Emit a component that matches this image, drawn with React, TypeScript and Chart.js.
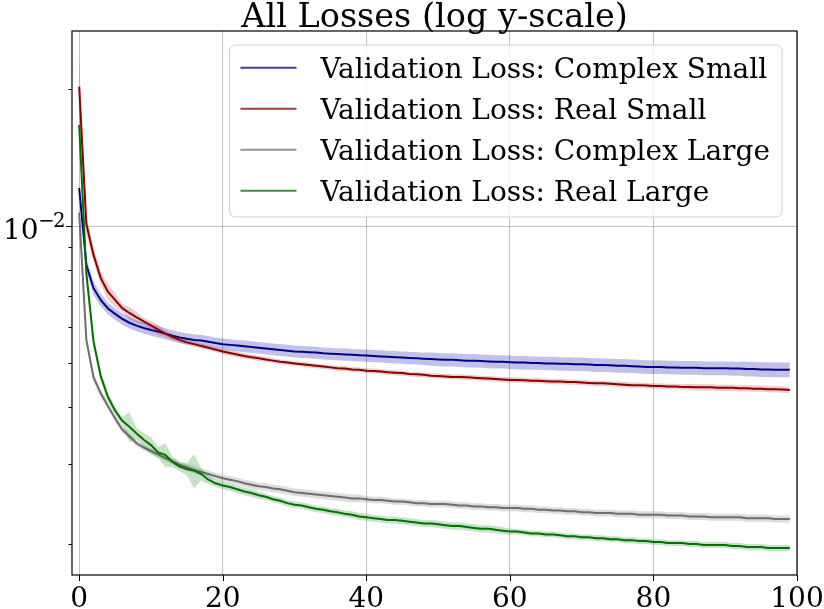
import { useEffect, useRef } from 'react';
import { Chart, registerables } from 'chart.js';

Chart.register(...registerables);

const epochs = Array.from({ length: 100 }, (_, i) => i);

const seriesNames = [
  'Validation Loss: Complex Small',
  'Validation Loss: Real Small',
  'Validation Loss: Complex Large',
  'Validation Loss: Real Large',
];
const lineColors = ['#00008b', '#8b0000', '#6e6e6e', '#007000'];
const legendColors = ['#3c3ca0', '#a03c3c', '#969696', '#3c8c3c'];
const bandColors = [
  'rgba(0, 0, 160, 0.24)',
  'rgba(160, 0, 0, 0.2)',
  'rgba(128, 128, 128, 0.27)',
  'rgba(0, 128, 0, 0.22)',
];

const xTickValues = [0, 20, 40, 60, 80, 100];
const yTickValues = [0.002, 0.003, 0.004, 0.005, 0.006, 0.007, 0.008, 0.009, 0.01, 0.02];

const complexSmallMean = [
  0.01212, 0.00821, 0.0073, 0.00688, 0.00659, 0.00641, 0.00625, 0.00613, 0.00604, 0.00597,
  0.00591, 0.00586, 0.0058, 0.00574, 0.00569, 0.00565, 0.00562, 0.0056, 0.00557, 0.00553,
  0.0055, 0.00548, 0.00546, 0.00544, 0.00542, 0.0054, 0.00538, 0.00536, 0.00534, 0.00532,
  0.0053, 0.00529, 0.00528, 0.00527, 0.00525, 0.00524, 0.00523, 0.00522, 0.00521, 0.0052,
  0.00519, 0.00518, 0.00517, 0.00516, 0.00515, 0.00514, 0.00513, 0.00512, 0.00511, 0.0051,
  0.00509, 0.00508, 0.00508, 0.00507, 0.00506, 0.00506, 0.00505, 0.00504, 0.00503, 0.00503,
  0.00502, 0.00501, 0.00501, 0.005, 0.005, 0.00499, 0.00499, 0.00498, 0.00498, 0.00497,
  0.00497, 0.00496, 0.00495, 0.00495, 0.00494, 0.00493, 0.00493, 0.00492, 0.00491, 0.0049,
  0.0049, 0.0049, 0.00489, 0.00489, 0.00488, 0.00488, 0.00488, 0.00487, 0.00487, 0.00487,
  0.00487, 0.00486, 0.00486, 0.00485, 0.00485, 0.00484, 0.00484, 0.00483, 0.00483, 0.00483,
];
const complexSmallStd = [
  0.00035, 0.00028, 0.00025, 0.00022, 0.0002, 0.00019, 0.00018, 0.00018, 0.00017, 0.00017,
  0.00017, 0.00017, 0.00016, 0.00016, 0.00016, 0.00016, 0.00016, 0.00016, 0.00016, 0.00016,
  0.00016, 0.00016, 0.00016, 0.00016, 0.00016, 0.00016, 0.00016, 0.00016, 0.00016, 0.00016,
  0.00016, 0.00016, 0.00016, 0.00016, 0.00016, 0.00016, 0.00016, 0.00016, 0.00016, 0.00016,
  0.00016, 0.00016, 0.00016, 0.00016, 0.00016, 0.00016, 0.00016, 0.00016, 0.00016, 0.00017,
  0.00017, 0.00017, 0.00017, 0.00017, 0.00017, 0.00017, 0.00017, 0.00017, 0.00017, 0.00017,
  0.00017, 0.00017, 0.00017, 0.00017, 0.00017, 0.00017, 0.00017, 0.00017, 0.00017, 0.00017,
  0.00017, 0.00017, 0.00017, 0.00017, 0.00017, 0.00017, 0.00017, 0.00017, 0.00017, 0.00017,
  0.00017, 0.00017, 0.00017, 0.00017, 0.00017, 0.00017, 0.00017, 0.00017, 0.00017, 0.00017,
  0.00017, 0.00017, 0.00017, 0.00018, 0.00018, 0.00018, 0.00018, 0.00018, 0.00018, 0.00018,
];

const realSmallMean = [
  0.02024, 0.0101, 0.00864, 0.00769, 0.00717, 0.00688, 0.0066, 0.00644, 0.0063, 0.00617,
  0.00605, 0.00592, 0.0058, 0.0057, 0.00562, 0.00555, 0.0055, 0.00545, 0.0054, 0.00535,
  0.0053, 0.00526, 0.00522, 0.00518, 0.00515, 0.00512, 0.00509, 0.00506, 0.00503, 0.00501,
  0.00499, 0.00497, 0.00495, 0.00493, 0.00491, 0.00489, 0.00487, 0.00486, 0.00484, 0.00483,
  0.00481, 0.0048, 0.00479, 0.00477, 0.00476, 0.00475, 0.00473, 0.00472, 0.00471, 0.00469,
  0.00468, 0.00467, 0.00466, 0.00466, 0.00465, 0.00464, 0.00463, 0.00462, 0.00461, 0.0046,
  0.00459, 0.00459, 0.00458, 0.00457, 0.00457, 0.00456, 0.00455, 0.00455, 0.00454, 0.00454,
  0.00453, 0.00452, 0.00451, 0.00451, 0.0045, 0.00449, 0.00448, 0.00447, 0.00447, 0.00446,
  0.00445, 0.00445, 0.00444, 0.00444, 0.00443, 0.00443, 0.00442, 0.00442, 0.00442, 0.00441,
  0.00441, 0.00441, 0.0044, 0.0044, 0.00439, 0.00439, 0.00438, 0.00438, 0.00437, 0.00436,
];
const realSmallStd = [
  0.003, 0.0005, 0.0003, 0.00025, 0.00028, 0.00024, 0.00014, 0.0002, 0.00017, 0.00011,
  0.00013, 0.00015, 0.00009, 0.00008, 0.00008, 0.00007, 0.00007, 0.00007, 0.00007, 0.00007,
  0.00007, 0.00007, 0.00007, 0.00007, 0.00007, 0.00007, 0.00007, 0.00006, 0.00006, 0.00006,
  0.00006, 0.00006, 0.00006, 0.00006, 0.00006, 0.00006, 0.00006, 0.00006, 0.00006, 0.00006,
  0.00006, 0.00006, 0.00006, 0.00006, 0.00006, 0.00006, 0.00006, 0.00006, 0.00006, 0.00006,
  0.00006, 0.00006, 0.00006, 0.00006, 0.00006, 0.00006, 0.00006, 0.00006, 0.00006, 0.00006,
  0.00006, 0.00006, 0.00006, 0.00006, 0.00006, 0.00006, 0.00006, 0.00006, 0.00006, 0.00006,
  0.00006, 0.00006, 0.00006, 0.00006, 0.00006, 0.00006, 0.00006, 0.00006, 0.00006, 0.00006,
  0.00006, 0.00006, 0.00006, 0.00006, 0.00006, 0.00007, 0.00007, 0.00007, 0.00007, 0.00007,
  0.00007, 0.00007, 0.00007, 0.00007, 0.00007, 0.00007, 0.00007, 0.00007, 0.00007, 0.00007,
];

const complexLargeMean = [
  0.0107, 0.00562, 0.00465, 0.00429, 0.00402, 0.00378, 0.00357, 0.00345, 0.00333, 0.00326,
  0.0032, 0.00315, 0.00309, 0.00304, 0.00299, 0.00295, 0.00291, 0.00288, 0.00285, 0.00282,
  0.00279, 0.00277, 0.00275, 0.00272, 0.0027, 0.00268, 0.00267, 0.00265, 0.00264, 0.00262,
  0.0026, 0.00259, 0.00258, 0.00257, 0.00256, 0.00255, 0.00254, 0.00253, 0.00252, 0.00252,
  0.00251, 0.0025, 0.0025, 0.00249, 0.00248, 0.00248, 0.00247, 0.00246, 0.00246, 0.00245,
  0.00245, 0.00245, 0.00244, 0.00243, 0.00243, 0.00242, 0.00242, 0.00241, 0.00241, 0.0024,
  0.0024, 0.0024, 0.00239, 0.00239, 0.00238, 0.00238, 0.00237, 0.00237, 0.00236, 0.00236,
  0.00235, 0.00235, 0.00234, 0.00234, 0.00234, 0.00233, 0.00233, 0.00233, 0.00232, 0.00232,
  0.00232, 0.00232, 0.00231, 0.00231, 0.00231, 0.0023, 0.0023, 0.0023, 0.00229, 0.00229,
  0.00229, 0.00229, 0.00229, 0.00228, 0.00228, 0.00228, 0.00228, 0.00227, 0.00227, 0.00227,
];
const complexLargeStd = [
  0.0004, 0.00015, 0.0001, 0.00008, 0.00007, 0.00006, 0.00006, 0.00005, 0.00005, 0.00005,
  0.00005, 0.00005, 0.00005, 0.00005, 0.00005, 0.00005, 0.00005, 0.00005, 0.00005, 0.00005,
  0.00005, 0.00005, 0.00005, 0.00005, 0.00005, 0.00005, 0.00005, 0.00005, 0.00005, 0.00005,
  0.00005, 0.00005, 0.00005, 0.00005, 0.00005, 0.00005, 0.00005, 0.00005, 0.00005, 0.00005,
  0.00004, 0.00004, 0.00004, 0.00004, 0.00004, 0.00004, 0.00004, 0.00004, 0.00004, 0.00004,
  0.00004, 0.00004, 0.00004, 0.00004, 0.00004, 0.00004, 0.00004, 0.00004, 0.00004, 0.00004,
  0.00004, 0.00004, 0.00004, 0.00004, 0.00004, 0.00004, 0.00004, 0.00004, 0.00004, 0.00004,
  0.00004, 0.00004, 0.00004, 0.00004, 0.00004, 0.00004, 0.00004, 0.00004, 0.00004, 0.00004,
  0.00004, 0.00004, 0.00004, 0.00004, 0.00004, 0.00004, 0.00004, 0.00004, 0.00004, 0.00004,
  0.00004, 0.00004, 0.00004, 0.00004, 0.00004, 0.00004, 0.00004, 0.00004, 0.00004, 0.00004,
];

const realLargeMean = [
  0.01667, 0.00787, 0.00557, 0.00468, 0.00421, 0.00393, 0.00373, 0.00362, 0.0035, 0.00339,
  0.0033, 0.00318, 0.00314, 0.00303, 0.00296, 0.00292, 0.0029, 0.00285, 0.00277, 0.00272,
  0.00269, 0.00267, 0.00264, 0.00261, 0.00259, 0.00256, 0.00254, 0.00251, 0.00249, 0.00246,
  0.00244, 0.00243, 0.00241, 0.00239, 0.00238, 0.00236, 0.00235, 0.00233, 0.00232, 0.0023,
  0.00229, 0.00228, 0.00227, 0.00226, 0.00226, 0.00225, 0.00224, 0.00223, 0.00222, 0.00222,
  0.00221, 0.0022, 0.00219, 0.00219, 0.00218, 0.00217, 0.00216, 0.00216, 0.00215, 0.00214,
  0.00213, 0.00213, 0.00212, 0.00211, 0.00211, 0.0021, 0.0021, 0.00209, 0.00208, 0.00208,
  0.00207, 0.00207, 0.00206, 0.00206, 0.00205, 0.00205, 0.00204, 0.00204, 0.00203, 0.00203,
  0.00202, 0.00202, 0.00201, 0.00201, 0.00201, 0.002, 0.002, 0.00199, 0.00199, 0.00199,
  0.00199, 0.00198, 0.00198, 0.00197, 0.00197, 0.00197, 0.00196, 0.00196, 0.00196, 0.00196,
];
const realLargeStd = [
  0.0005, 0.00025, 0.00015, 0.00012, 0.0001, 0.00008, 0.00008, 0.00027, 0.0001, 0.00012,
  0.00014, 0.00009, 0.00019, 0.00008, 0.00007, 0.00009, 0.00025, 0.00009, 0.00006, 0.00005,
  0.00005, 0.00005, 0.00005, 0.00005, 0.00005, 0.00005, 0.00004, 0.00004, 0.00004, 0.00004,
  0.00004, 0.00004, 0.00004, 0.00004, 0.00004, 0.00004, 0.00004, 0.00004, 0.00004, 0.00004,
  0.00004, 0.00004, 0.00004, 0.00004, 0.00004, 0.00004, 0.00004, 0.00004, 0.00004, 0.00004,
  0.00004, 0.00004, 0.00004, 0.00004, 0.00004, 0.00004, 0.00004, 0.00004, 0.00004, 0.00004,
  0.00003, 0.00003, 0.00003, 0.00003, 0.00003, 0.00003, 0.00003, 0.00003, 0.00003, 0.00003,
  0.00003, 0.00003, 0.00003, 0.00003, 0.00003, 0.00003, 0.00003, 0.00003, 0.00003, 0.00003,
  0.00003, 0.00003, 0.00003, 0.00003, 0.00003, 0.00003, 0.00003, 0.00003, 0.00003, 0.00003,
  0.00003, 0.00003, 0.00003, 0.00003, 0.00003, 0.00003, 0.00003, 0.00003, 0.00003, 0.00003,
];

const seriesMeans = [complexSmallMean, realSmallMean, complexLargeMean, realLargeMean];
const seriesStds = [complexSmallStd, realSmallStd, complexLargeStd, realLargeStd];

const FONT = "'DejaVu Serif', serif";

// title, frame, tick marks, the 10^-2 label and the in-axes legend, drawn like matplotlib
const decorPlugin = {
  id: 'decor',
  afterDraw(chart: any) {
    const { ctx, chartArea, scales } = chart;
    const { left, right, top, bottom } = chartArea;
    ctx.save();

    ctx.strokeStyle = '#000';
    ctx.lineWidth = 1;
    ctx.beginPath();
    xTickValues.forEach((v) => {
      const px = Math.round(scales.x.getPixelForValue(v)) + 0.5;
      ctx.moveTo(px, bottom);
      ctx.lineTo(px, bottom + 6);
    });
    yTickValues.forEach((v) => {
      const py = Math.round(scales.y.getPixelForValue(v)) + 0.5;
      ctx.moveTo(left, py);
      ctx.lineTo(left - (v === 0.01 ? 6 : 3.5), py);
    });
    ctx.stroke();

    ctx.lineWidth = 1.2;
    ctx.strokeRect(left, top, right - left, bottom - top);

    // y major label: 10 with a raised -2
    const yMajor = scales.y.getPixelForValue(0.01);
    ctx.fillStyle = '#000';
    ctx.textBaseline = 'alphabetic';
    ctx.textAlign = 'left';
    ctx.font = `28px ${FONT}`;
    ctx.fillText('10', left - 69, yMajor + 12.5);
    ctx.font = `19.6px ${FONT}`;
    ctx.textAlign = 'center';
    ctx.fillText('\u2212', left - 25.5, yMajor + 1);
    ctx.textAlign = 'left';
    ctx.fillText('2', left - 19, yMajor + 1);

    ctx.font = `33.5px ${FONT}`;
    ctx.textAlign = 'center';
    ctx.fillText('All Losses (log y-scale)', (left + right) / 2, 27);

    ctx.font = `28px ${FONT}`;
    const textW = Math.max(...seriesNames.map((n) => ctx.measureText(n).width));
    const boxW = 91 + textW + 12;
    const boxH = 172;
    const boxX = right - 15 - boxW;
    const boxY = top + 14;
    ctx.beginPath();
    ctx.roundRect(boxX, boxY, boxW, boxH, 6);
    ctx.fillStyle = 'rgba(255,255,255,0.8)';
    ctx.fill();
    ctx.strokeStyle = '#d0d0d0';
    ctx.lineWidth = 1;
    ctx.stroke();

    ctx.textAlign = 'left';
    seriesNames.forEach((name, k) => {
      const cy = boxY + 22.7 + 41 * k;
      ctx.strokeStyle = legendColors[k];
      ctx.lineWidth = 2;
      ctx.beginPath();
      ctx.moveTo(boxX + 11, cy);
      ctx.lineTo(boxX + 67, cy);
      ctx.stroke();
      ctx.fillStyle = '#000';
      ctx.fillText(name, boxX + 91, cy + 10);
    });

    ctx.restore();
  },
};

function LossChart() {
  const canvasRef = useRef<HTMLCanvasElement | null>(null);

  useEffect(() => {
    if (!canvasRef.current) return;

    const datasets: any[] = [];
    const total = seriesNames.length * 3;
    seriesNames.forEach((name, k) => {
      const mean = seriesMeans[k];
      const std = seriesStds[k];
      const base = total - k * 3;
      datasets.push({
        label: name,
        data: epochs.map((e, i) => ({ x: e, y: mean[i] })),
        borderColor: lineColors[k],
        borderWidth: 2,
        pointRadius: 0,
        fill: false,
        tension: 0,
        order: base - 2,
      });
      datasets.push({
        label: name + ' upper',
        data: epochs.map((e, i) => ({ x: e, y: mean[i] + std[i] })),
        borderWidth: 0,
        borderColor: 'rgba(0,0,0,0)',
        backgroundColor: bandColors[k],
        pointRadius: 0,
        fill: '+1',
        order: base - 1,
      });
      datasets.push({
        label: name + ' lower',
        data: epochs.map((e, i) => ({ x: e, y: mean[i] - std[i] })),
        borderWidth: 0,
        borderColor: 'rgba(0,0,0,0)',
        pointRadius: 0,
        fill: false,
        order: base - 1,
      });
    });

    const chart = new Chart(canvasRef.current, {
      type: 'line',
      data: { datasets },
      plugins: [decorPlugin],
      options: {
        animation: false,
        responsive: true,
        maintainAspectRatio: false,
        layout: { padding: { top: 31, right: 0, left: 0, bottom: 0 } },
        plugins: {
          legend: { display: false },
          title: { display: false },
          tooltip: { enabled: false },
        },
        scales: {
          x: {
            type: 'linear',
            min: -1,
            max: 100,
            afterBuildTicks: (scale: any) => {
              scale.ticks = xTickValues.map((v) => ({ value: v }));
            },
            afterFit: (scale: any) => {
              scale.height = 34;
              scale.paddingLeft = 0;
              scale.paddingRight = 27;
            },
            border: { display: false },
            grid: { color: '#b0b0b0', lineWidth: 0.8, drawTicks: false },
            ticks: {
              color: '#000',
              padding: 8,
              maxRotation: 0,
              font: { family: FONT, size: 28 },
            },
          },
          y: {
            type: 'logarithmic',
            min: 0.00171,
            max: 0.02683,
            afterBuildTicks: (scale: any) => {
              scale.ticks = yTickValues.map((v) => ({ value: v }));
            },
            afterFit: (scale: any) => {
              scale.width = 72;
              scale.paddingTop = 0;
              scale.paddingBottom = 0;
            },
            border: { display: false },
            grid: {
              drawTicks: false,
              lineWidth: 0.8,
              color: (c: any) =>
                c.tick && c.tick.value === 0.01 ? '#b0b0b0' : 'rgba(0,0,0,0)',
            },
            ticks: {
              color: '#000',
              padding: 9,
              font: { family: FONT, size: 28 },
              callback: () => '',
            },
          },
        },
      },
    });

    return () => chart.destroy();
  }, []);

  return <canvas ref={canvasRef} />;
}

export default function App() {
  return (
    <div
      style={{
        position: 'fixed',
        left: 0,
        top: 0,
        width: 824,
        height: 609,
        background: '#fff',
      }}
    >
      <LossChart />
    </div>
  );
}
